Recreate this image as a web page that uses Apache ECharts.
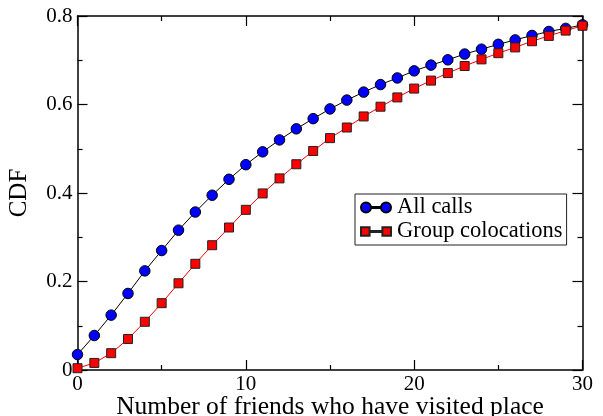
<!DOCTYPE html>
<html>
<head>
<meta charset="utf-8">
<script src="https://cdn.jsdelivr.net/npm/echarts@6/dist/echarts.min.js"></script>
<style>html,body{margin:0;padding:0;background:#fff}#c{width:603px;height:416px}</style>
</head>
<body>
<div id="c"></div>
<script>
const friends = [0,1,2,3,4,5,6,7,8,9,10,11,12,13,14,15,16,17,18,19,20,21,22,23,24,25,26,27,28,29,30];
const allCalls = [0.035,0.078,0.124,0.173,0.224,0.270,0.316,0.357,0.395,0.431,0.464,0.493,0.520,0.545,0.568,0.590,0.610,0.628,0.645,0.660,0.676,0.689,0.701,0.714,0.725,0.736,0.746,0.756,0.765,0.772,0.780];
const groupColocations = [0.004,0.016,0.038,0.070,0.109,0.151,0.196,0.240,0.282,0.322,0.362,0.399,0.433,0.465,0.495,0.524,0.548,0.573,0.595,0.616,0.636,0.654,0.671,0.687,0.702,0.716,0.729,0.743,0.755,0.767,0.778];
const seriesNames = ['All calls', 'Group colocations'];
const xTitle = 'Number of friends who have visited place';
const yTitle = 'CDF';

const FONT = '"Liberation Serif", "DejaVu Serif", serif';
const chart = echarts.init(document.getElementById('c'), null, {renderer: 'canvas'});

function axisCommon(extra) {
  return Object.assign({
    type: 'value',
    axisLine: {show: true, onZero: false, lineStyle: {color: '#000', width: 1.5}},
    axisTick: {show: true, inside: true, length: 10, lineStyle: {color: '#000', width: 1.2}},
    minorTick: {show: true, splitNumber: 2, length: 5, lineStyle: {color: '#000', width: 1.2}},
    splitLine: {show: false},
    minorSplitLine: {show: false}
  }, extra);
}

const option = {
  animation: false,
  backgroundColor: '#fff',
  grid: {left: 77.5, right: 20.5, top: 16, bottom: 46, containLabel: false, outerBoundsMode: 'none'},
  xAxis: [
    axisCommon({
      position: 'bottom', min: 0, max: 30, interval: 10,
      axisLabel: {color: '#000', fontSize: 21, fontFamily: FONT, margin: 4},
      name: xTitle, nameLocation: 'middle', nameGap: 24, nameMoveOverlap: false,
      nameTextStyle: {color: '#000', fontSize: 25.5, fontFamily: FONT}
    }),
    axisCommon({
      position: 'top', min: 0, max: 30, interval: 10,
      axisLabel: {show: false}
    })
  ],
  yAxis: [
    axisCommon({
      position: 'left', min: 0, max: 0.8, interval: 0.2,
      axisLabel: {color: '#000', fontSize: 21, fontFamily: FONT, margin: 5,
        formatter: v => v === 0 ? '0' : v.toFixed(1)},
      name: yTitle, nameLocation: 'middle', nameGap: 46, nameMoveOverlap: false,
      nameTextStyle: {color: '#000', fontSize: 25, fontFamily: FONT}
    }),
    axisCommon({
      position: 'right', min: 0, max: 0.8, interval: 0.2,
      axisLabel: {show: false}
    })
  ],
  legend: {
    orient: 'vertical',
    left: 355, top: 194,
    padding: [2, 4, 2, 5],
    itemGap: 1,
    itemWidth: 30, itemHeight: 10,
    borderColor: '#222', borderWidth: 1, borderRadius: 0,
    backgroundColor: '#fff',
    textStyle: {color: '#000', fontSize: 22.5, fontFamily: FONT, padding: [0, 0, 0, 1]},
    data: [
      {name: seriesNames[0], icon: 'path://M0,5A5,5,0,1,1,10,5A5,5,0,1,1,0,5Z M10,4.5L20,4.5L20,5.5L10,5.5Z M20,5A5,5,0,1,1,30,5A5,5,0,1,1,20,5Z'},
      {name: seriesNames[1], icon: 'path://M1,1L9,1L9,9L1,9Z M9,4.5L21,4.5L21,5.5L9,5.5Z M21,1L29,1L29,9L21,9Z'}
    ]
  },
  series: [
    {
      name: seriesNames[0], type: 'line', clip: false,
      data: friends.map((x, i) => [x, allCalls[i]]),
      symbol: 'circle', symbolSize: 10.5,
      itemStyle: {color: '#0000ff', borderColor: '#000', borderWidth: 1},
      lineStyle: {color: '#000', width: 1}
    },
    {
      name: seriesNames[1], type: 'line', clip: false,
      data: friends.map((x, i) => [x, groupColocations[i]]),
      symbol: 'rect', symbolSize: 9,
      itemStyle: {color: '#ff0000', borderColor: '#222', borderWidth: 1},
      lineStyle: {color: '#ff0000', width: 1}
    }
  ]
};
chart.setOption(option);
</script>
</body>
</html>
